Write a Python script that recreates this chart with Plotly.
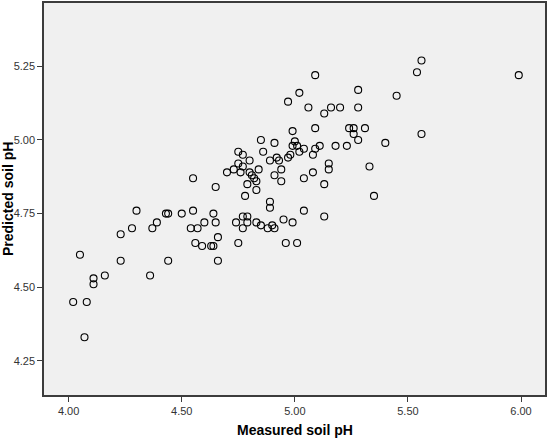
import plotly.graph_objects as go

# measured vs predicted soil pH
measured = [
    4.02, 4.08, 4.07, 4.05, 4.11, 4.11, 4.16, 4.23, 4.23, 4.28,
    4.30, 4.36, 4.37, 4.39, 4.43, 4.44, 4.44, 4.50, 4.54, 4.57,
    4.55, 4.55, 4.56, 4.59, 4.60, 4.63, 4.64, 4.64, 4.65, 4.65,
    4.66, 4.66, 4.74, 4.75, 4.77, 4.77, 4.79, 4.79, 4.78, 4.83,
    4.85, 4.88, 4.90, 4.91, 4.89, 4.89, 4.95, 4.99, 4.96, 5.01,
    5.04, 5.13, 5.35,
    4.70, 4.73, 4.75, 4.76, 4.77, 4.75, 4.77, 4.80, 4.80, 4.84,
    4.81, 4.82, 4.83, 4.79, 4.83, 4.85, 4.86, 4.89, 4.91, 4.91,
    4.92, 4.93, 4.94, 4.94, 4.97, 4.98, 4.99, 5.00, 4.99, 5.01,
    5.02, 5.04, 5.08, 5.09, 5.11, 5.18, 5.23, 5.04, 5.08, 5.15,
    5.15, 5.13, 5.33, 5.40, 5.28, 5.26, 5.56, 5.09, 5.24, 5.26,
    5.31, 5.06, 5.13, 5.16, 5.20, 5.28, 4.97, 5.02, 5.45, 5.28,
    5.09, 5.54, 5.56, 5.99,
]
predicted = [
    4.45, 4.45, 4.33, 4.61, 4.53, 4.51, 4.54, 4.68, 4.59, 4.70,
    4.76, 4.54, 4.70, 4.72, 4.75, 4.75, 4.59, 4.75, 4.70, 4.70,
    4.76, 4.87, 4.65, 4.64, 4.72, 4.64, 4.64, 4.75, 4.84, 4.72,
    4.67, 4.59, 4.72, 4.65, 4.70, 4.74, 4.74, 4.72, 4.81, 4.72,
    4.71, 4.70, 4.71, 4.70, 4.79, 4.77, 4.73, 4.72, 4.65, 4.65,
    4.76, 4.74, 4.81,
    4.89, 4.90, 4.92, 4.89, 4.91, 4.96, 4.95, 4.93, 4.89, 4.90,
    4.88, 4.87, 4.86, 4.85, 4.83, 5.00, 4.96, 4.93, 4.99, 4.88,
    4.94, 4.93, 4.90, 4.86, 4.94, 4.95, 5.03, 4.995, 4.98, 4.98,
    4.96, 4.97, 4.95, 4.97, 4.98, 4.98, 4.98, 4.87, 4.89, 4.92,
    4.90, 4.85, 4.91, 4.99, 5.00, 5.02, 5.02, 5.04, 5.04, 5.04,
    5.04, 5.11, 5.09, 5.11, 5.11, 5.11, 5.13, 5.16, 5.15, 5.17,
    5.22, 5.23, 5.27, 5.22,
]

x_ticks = [4.00, 4.50, 5.00, 5.50, 6.00]
y_ticks = [4.25, 4.50, 4.75, 5.00, 5.25]

fig = go.Figure(go.Scatter(
    x=measured, y=predicted, mode="markers",
    marker=dict(symbol="circle-open", size=7, color="black",
                line=dict(width=1.1, color="black")),
))

axis_style = dict(
    showgrid=False, zeroline=False, automargin=False,
    showline=True, mirror=True, linecolor="#3c3c3c", linewidth=1.5,
    ticks="outside", ticklen=5, tickwidth=1, tickcolor="#3c3c3c",
    tickfont=dict(family="Liberation Sans, Arial", size=11, color="#333333"),
)
title_font = dict(family="Liberation Sans, Arial", size=14, color="black")

fig.update_layout(
    width=550, height=440,
    margin=dict(l=44, r=5, t=3, b=45),
    paper_bgcolor="white", plot_bgcolor="#f0f0f0",
    showlegend=False,
    xaxis=dict(range=[3.891, 6.106], tickvals=x_ticks,
               ticktext=[f"{v:.2f}" for v in x_ticks], **axis_style),
    yaxis=dict(range=[4.134, 5.465], tickvals=y_ticks,
               ticktext=[f"{v:.2f}" for v in y_ticks], **axis_style),
    annotations=[
        dict(text="<b>Measured soil pH</b>", xref="paper", yref="paper",
             x=0.5, y=0, xanchor="center", yanchor="middle", yshift=-35,
             showarrow=False, font=title_font),
        dict(text="<b>Predicted soil pH</b>", xref="paper", yref="paper",
             x=0, y=0.5, xanchor="center", yanchor="middle", xshift=-36,
             textangle=-90, showarrow=False, font=title_font),
    ],
)

# the page's default body margin would shift the chart by 8px
fig.write_html("out.html", config={"displayModeBar": False},
               post_script="document.body.style.margin='0';document.body.style.overflow='hidden';")
